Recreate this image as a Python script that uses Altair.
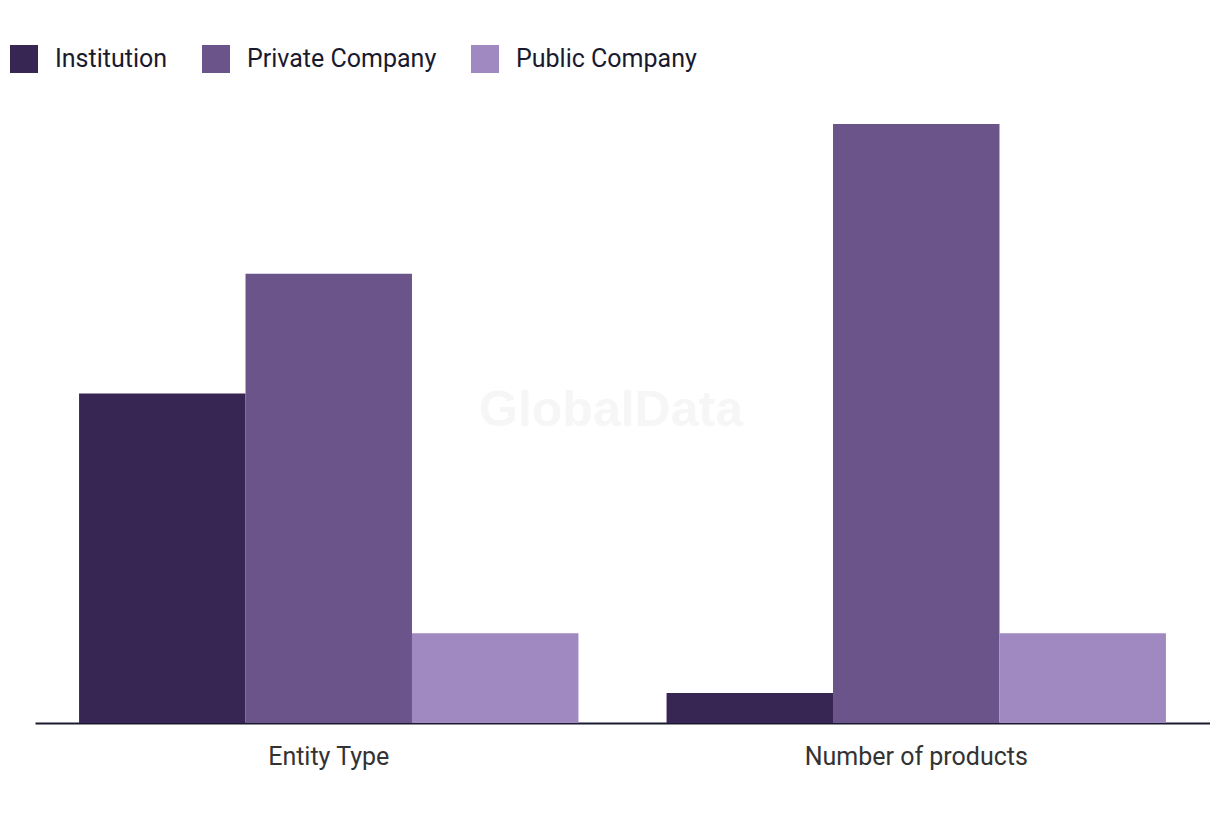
import altair as alt
import pandas as pd

categories = ["Entity Type", "Number of products"]
series = ["Institution", "Private Company", "Public Company"]
values = {
    "Institution": [11, 1],
    "Private Company": [15, 20],
    "Public Company": [3, 3],
}
colors = ["#372554", "#6A5489", "#A088C1"]

rows = []
for s in series:
    for c, v in zip(categories, values[s]):
        rows.append({"category": c, "series": s, "value": v})
df = pd.DataFrame(rows)

bars = alt.Chart(df).mark_bar().encode(
    x=alt.X("category:N", sort=categories,
            scale=alt.Scale(paddingInner=0.15, paddingOuter=0.075),
            axis=alt.Axis(title=None, labelAngle=0, labelFontSize=25, labelColor="#333333",
                          labelFont="Roboto", labelPadding=21, ticks=False, labelLimit=0,
                          domainColor="#1a1a2e", domainWidth=2)),
    xOffset=alt.XOffset("series:N", sort=series),
    y=alt.Y("value:Q", scale=alt.Scale(domain=[0, 20], nice=False),
            axis=None),
    color=alt.Color("series:N", sort=series,
                    scale=alt.Scale(domain=series, range=colors),
                    legend=alt.Legend(title=None, orient="none", legendX=-25, legendY=-79,
                                      direction="horizontal", symbolType="square",
                                      symbolSize=784, symbolStrokeWidth=0, symbolOpacity=1,
                                      labelFontSize=25, labelFont="Roboto", labelColor="#1a1a2e",
                                      labelOffset=17, columnPadding=34, symbolOffset=0,
                                      labelLimit=0)),
)

wm = alt.Chart(pd.DataFrame({"t": ["GlobalData"]})).mark_text(
    fontSize=50, fontWeight="bold", color="#f6f6f6", font="Liberation Sans"
).encode(text="t:N", x=alt.value(576), y=alt.value(287))

chart = alt.layer(wm, bars).properties(
    width=1175, height=599,
    autosize=alt.AutoSizeParams(type="none"),
    padding={"left": 27, "top": 116, "right": 0, "bottom": 80},
).configure_view(stroke=None)

chart.save("out.html", embed_options={"renderer": "svg", "actions": False})
